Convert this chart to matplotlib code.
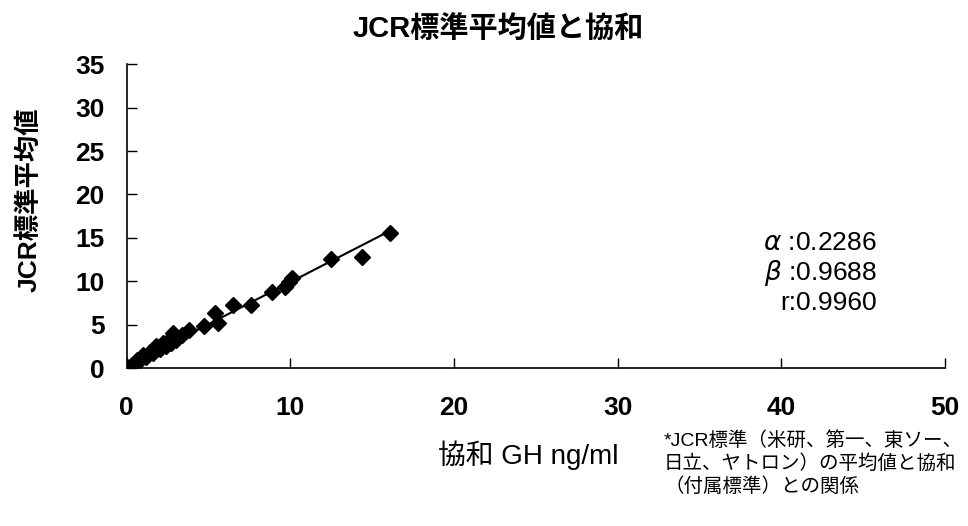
import numpy as np
from matplotlib import pyplot as plt

# 協和 GH (x) と JCR標準平均値 (y)
kyowa = [0.0, 0.3, 0.6, 0.8, 1.0, 1.2, 1.4, 1.6, 1.8, 2.0, 2.2, 2.4, 2.6, 2.7,
         2.8, 3.0, 3.4, 3.8, 4.7, 5.4, 5.6, 6.5, 7.6, 8.9, 9.7, 9.9, 10.1,
         12.5, 14.4, 16.1]
jcr = [0.15, 0.4, 0.9, 0.9, 1.5, 1.3, 1.9, 1.8, 2.5, 2.2, 2.9, 2.6, 3.3, 2.9,
       4.0, 3.3, 3.8, 4.4, 4.9, 6.35, 5.2, 7.3, 7.3, 8.75, 9.3, 9.9, 10.4,
       12.6, 12.75, 15.6]

alpha = 0.2286
beta = 0.9688
r = 0.9960
fit_x = [0.0, 16.1]

xticks = [0, 10, 20, 30, 40, 50]
yticks = [0, 5, 10, 15, 20, 25, 30, 35]

plt.rcParams['font.family'] = ['Liberation Sans', 'Noto Sans CJK JP',
                               'DejaVu Sans']

fig = plt.figure(figsize=(9.68, 5.26), dpi=100)
ax = fig.add_axes([0.131, 0.30, 0.845, 0.578])

ax.plot(kyowa, jcr, linestyle='none', marker='D', markersize=8,
        color='black', zorder=3)
fx = np.array(fit_x)
ax.plot(fx, alpha + beta * fx, color='black', linewidth=1.5, zorder=2)

ax.set_xlim(0, 50)
ax.set_ylim(0, 35)
ax.set_xticks(xticks)
ax.set_yticks(yticks)
ax.tick_params(direction='in', length=7, width=1, labelsize=19)
ax.tick_params(axis='x', pad=20)
ax.tick_params(axis='y', pad=16)
for lab in ax.get_xticklabels() + ax.get_yticklabels():
    lab.set_fontweight('bold')
for s in ['top', 'right']:
    ax.spines[s].set_visible(False)
ax.spines['left'].set_linewidth(1.2)
ax.spines['bottom'].set_linewidth(1.2)

fig.text(0.515, 0.945, 'JCR標準平均値と協和', ha='center', va='center',
         fontsize=21, fontweight='bold')
fig.text(0.03, 0.62, 'JCR標準平均値', ha='center', va='center',
         rotation=90, fontsize=19, fontweight='bold')

fig.text(0.906, 0.538, r'$\alpha$' + ' :' + f'{alpha:.4f}', ha='right',
         va='center', fontsize=19)
fig.text(0.906, 0.481, r'$\beta$' + ' :' + f'{beta:.4f}', ha='right',
         va='center', fontsize=19)
fig.text(0.906, 0.424, 'r:' + f'{r:.4f}', ha='right', va='center',
         fontsize=19)

fig.text(0.452, 0.135, '協和 GH ng/ml', ha='left', va='center',
         fontsize=20)
fig.text(0.686, 0.118, '*JCR標準（米研、第一、東ソー、\n日立、ヤトロン）の平均値と協和\n（付属標準）との関係',
         ha='left', va='center', fontsize=14, linespacing=1.3)

fig.savefig('out.png', dpi=100)
